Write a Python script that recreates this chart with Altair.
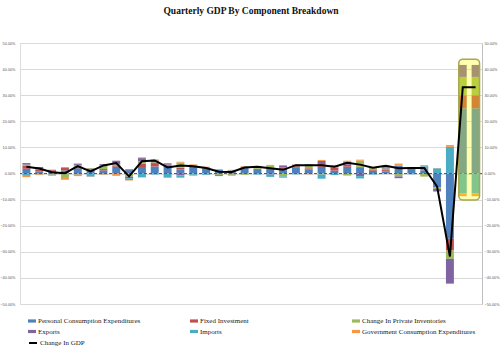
import altair as alt
import pandas as pd

quarters = [
    "Q1 2012", "Q2 2012", "Q3 2012", "Q4 2012",
    "Q1 2013", "Q2 2013", "Q3 2013", "Q4 2013",
    "Q1 2014", "Q2 2014", "Q3 2014", "Q4 2014",
    "Q1 2015", "Q2 2015", "Q3 2015", "Q4 2015",
    "Q1 2016", "Q2 2016", "Q3 2016", "Q4 2016",
    "Q1 2017", "Q2 2017", "Q3 2017", "Q4 2017",
    "Q1 2018", "Q2 2018", "Q3 2018", "Q4 2018",
    "Q1 2019", "Q2 2019", "Q3 2019", "Q4 2019",
    "Q1 2020", "Q2 2020",
    "Q3 2020|Bank|Estimate", "Q3 2020|Street|Estimate",
]

pce = [1.8, 0.8, 1.1, 1.2, 2.0, 1.1, 1.2, 2.6, 1.3, 2.5, 2.7, 3.0, 1.6, 2.1, 1.9, 1.5, 1.2, 2.4,
       1.7, 1.9, 1.3, 2.2, 1.6, 2.6, 1.1, 2.6, 2.4, 1.0, 0.8, 3.0, 2.0, 1.1, -5.2, -25.0, 25.0, 25.0]
fixed_inv = [1.3, 0.8, 0.2, 1.0, 0.5, 0.6, 0.5, 0.5, 0.3, 1.2, 1.3, 0.4, 0.6, 0.5, 0.4, -0.1, -0.1, -0.1,
             0.1, 0.3, 1.0, 0.6, 0.4, 1.4, 1.0, 0.8, 0.2, 0.3, 0.5, -0.2, 0.0, -0.1, -0.2, -4.5, 5.0, 5.0]
inventories = [0.3, 0.2, -0.3, -1.7, 0.8, 0.3, 1.4, 0.4, -1.2, 1.0, 0.3, -0.1, 2.0, -0.3, -0.2, -0.4, -0.4, -0.4,
               0.3, 1.0, -1.1, 0.2, 1.2, -0.4, 0.3, -0.7, 2.3, 0.8, 0.6, -0.9, -0.1, -1.1, -0.5, -3.2, 7.0, 7.0]
exports = [0.6, 0.7, 0.1, 0.1, 0.5, 0.1, 0.5, 1.4, -0.6, 1.2, 0.7, 0.5, -0.7, 0.4, 0.0, -0.4, -0.1, 0.2,
           0.7, -0.4, 0.8, 0.4, 0.3, 0.8, 0.5, 1.1, -1.0, 0.2, 0.5, -0.7, 0.1, 0.2, -1.0, -9.5, 4.6, 4.6]
imports = [-0.9, -0.3, -0.2, 0.2, -0.4, -1.2, -0.3, -0.1, -0.7, -1.5, -0.4, -1.3, -0.9, -0.5, -0.3, -0.1, -0.2, 0.0,
           -0.4, -0.9, -0.5, -0.3, -0.1, -1.6, -0.6, -0.1, -0.9, -0.4, 0.2, 0.0, -0.2, 1.5, 2.0, 10.2, -7.7, -7.7]
government = [-0.5, -0.3, -0.4, -0.7, -0.6, -0.1, -0.2, -0.8, -0.2, 0.3, 0.4, -0.3, 0.3, 0.5, 0.3, 0.2, 0.2, 0.2,
              0.1, 0.1, -0.1, 0.1, -0.2, 0.4, 0.3, 0.4, 0.4, 0.1, 0.4, 0.8, 0.3, 0.4, 0.1, 0.7, -1.0, -1.0]
gdp = [2.6, 1.9, 0.5, 0.1, 2.8, 0.8, 3.1, 4.0, -1.1, 4.7, 5.0, 2.3, 3.1, 2.8, 2.1, 0.7, 0.6, 2.3,
       2.6, 2.0, 1.4, 3.2, 3.2, 3.2, 2.6, 4.1, 3.4, 2.2, 3.0, 2.0, 2.1, 2.1, -5.0, -31.8, 33.0, 33.0]

series_names = [
    "Personal Consumption Expenditures", "Fixed Investment", "Change In Private Inventories",
    "Exports", "Imports", "Government Consumption Expenditures",
]
series_colors = ["#4F81BD", "#C0504D", "#9BBB59", "#8064A2", "#4BACC6", "#F79646"]
series_values = [pce, fixed_inv, inventories, exports, imports, government]

# highlight box around the estimates (in data units)
box_from = [quarters[34]]
box_to = [quarters[35]]
box_low = [-10.2]
box_high = [43.8]

y_ticks = list(range(-50, 51, 10))

rows = []
for k, (name, vals) in enumerate(zip(series_names, series_values)):
    for q, v in zip(quarters, vals):
        rows.append({"quarter": q, "series": name, "value": v, "k": k})
bars_df = pd.DataFrame(rows)
line_df = pd.DataFrame({"quarter": quarters, "gdp": gdp, "label": "Change In GDP"})
box_df = pd.DataFrame({"a": box_from, "b": box_to, "lo": box_low, "hi": box_high})
zero_df = pd.DataFrame({"z": [0]})

FONT = "Liberation Serif"
yscale = alt.Scale(domain=[-50, 50], nice=False, zero=False)
xscale = alt.Scale(domain=quarters, paddingInner=0.38, paddingOuter=0.19)
label_expr = "format(datum.value, '.2f') + '%'"

x_enc = alt.X(
    "quarter:N", scale=xscale, sort=None, title=None,
    axis=alt.Axis(labelAngle=0, labelFontSize=3.5, labelColor="#595959", ticks=False,
                  domain=True, domainColor="#BFBFBF", grid=False, labelPadding=3,
                  labelExpr="split(datum.label, '|')", labelFont="Liberation Sans"),
)

bars = alt.Chart(bars_df).mark_bar().encode(
    x=x_enc,
    y=alt.Y("value:Q", stack="zero", scale=yscale, title=None,
            axis=alt.Axis(values=y_ticks, labelExpr=label_expr, labelFontSize=3.8, labelColor="#595959",
                          gridColor="#D9D9D9", domain=False, ticks=False, labelPadding=5,
                          labelFont="Liberation Sans")),
    color=alt.Color("series:N", scale=alt.Scale(domain=series_names, range=series_colors),
                    legend=alt.Legend(orient="none", legendX=8, legendY=274, columns=3, gridAlign="all",
                                      direction="horizontal",
                                      columnPadding=38, rowPadding=3.5, title=None, labelFont=FONT,
                                      labelFontSize=7, labelColor="#222222",
                                      symbolType="M-1,-0.4L1,-0.4L1,0.4L-1,0.4Z", symbolSize=64,
                                      symbolStrokeWidth=0, labelOffset=2)),
    order=alt.Order("k:Q", sort="ascending"),
)

zero = alt.Chart(zero_df).mark_rule(color="#A0403D", strokeDash=[3, 2], strokeWidth=1).encode(
    y=alt.Y("z:Q", scale=yscale, axis=None),
)

box = alt.Chart(box_df).mark_rect(
    fill="#FFFF00", fillOpacity=0.3, stroke="#A8A850", strokeWidth=1.5, cornerRadius=4
).encode(
    x=alt.X("a:N", scale=xscale, sort=None, bandPosition=0, axis=None),
    x2=alt.X2("b:N", bandPosition=1),
    y=alt.Y("hi:Q", scale=yscale, axis=None),
    y2="lo:Q",
)

line = alt.Chart(line_df).mark_line(strokeWidth=2).encode(
    x=alt.X("quarter:N", scale=xscale, sort=None, axis=None),
    y=alt.Y("gdp:Q", scale=yscale, title=None,
            axis=alt.Axis(orient="right", values=y_ticks, labelExpr=label_expr, labelFontSize=3.8,
                          labelColor="#595959", grid=False, domain=True, domainColor="#BFBFBF",
                          ticks=False, labelPadding=2, labelFont="Liberation Sans")),
    stroke=alt.Stroke("label:N", scale=alt.Scale(range=["#000000"]),
                      legend=alt.Legend(orient="none", legendX=8, legendY=295, title=None, labelFont=FONT,
                                        labelFontSize=7, labelColor="#222222", symbolType="stroke",
                                        symbolStrokeWidth=2, symbolSize=64, labelOffset=2)),
)

chart = alt.layer(bars, zero, box, line).resolve_axis(y="independent").properties(
    width=462, height=261,
    autosize=alt.AutoSizeParams(type="none"),
    padding={"left": 20, "top": 43, "right": 18, "bottom": 47},
    title=alt.Title("Quarterly GDP By Component Breakdown", font=FONT, fontSize=9.5, fontWeight="bold",
                    anchor="middle", offset=26, color="#111111"),
).configure_view(stroke=None).configure(background="white")

chart.save("out.html", embed_options={"renderer": "svg", "actions": False})
